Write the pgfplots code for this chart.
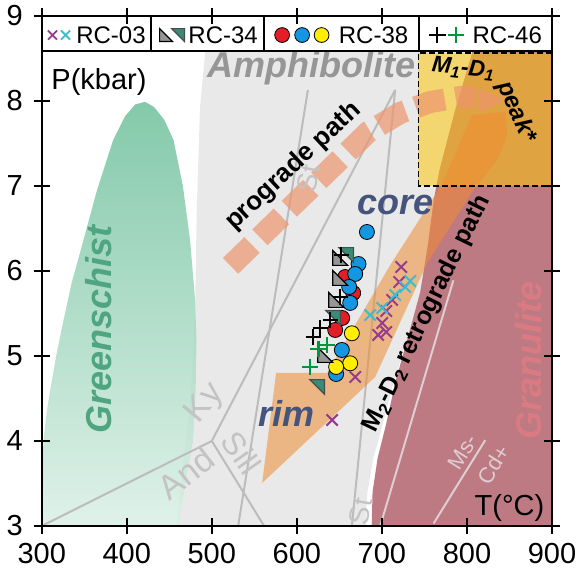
\documentclass[border=0pt]{standalone}
\usepackage{fontspec}
\setmainfont{Liberation Sans}
\usepackage{pgfplots}
\pgfplotsset{compat=1.18}
\usetikzlibrary{calc}
\definecolor{grey1}{RGB}{233,233,233}
\definecolor{gs1}{RGB}{110,192,155}
\definecolor{gs2}{RGB}{220,240,231}
\definecolor{gran}{RGB}{189,122,130}
\definecolor{boxy}{RGB}{243,214,112}
\definecolor{boxo}{RGB}{223,163,65}
\definecolor{orng}{RGB}{240,140,50}
\definecolor{salm}{RGB}{238,150,110}
\definecolor{lin}{RGB}{188,188,188}
\definecolor{linp}{RGB}{222,205,210}
\definecolor{txtblue}{RGB}{68,84,125}
\definecolor{gstxt}{RGB}{78,165,128}
\definecolor{grtxt}{RGB}{218,122,130}
\definecolor{amtxt}{RGB}{150,150,150}
\definecolor{lbl}{RGB}{195,195,195}
\definecolor{mblue}{RGB}{20,150,225}
\definecolor{mred}{RGB}{228,30,38}
\definecolor{myel}{RGB}{255,238,0}
\definecolor{mgrey}{RGB}{150,150,150}
\definecolor{mteal}{RGB}{55,140,118}
\definecolor{mpurp}{RGB}{150,60,140}
\definecolor{mcyan}{RGB}{60,188,205}
\definecolor{mgreen}{RGB}{0,150,60}
\pgfdeclareplotmark{trigrey}{%
  \pgfpathmoveto{\pgfpoint{-\pgfplotmarksize}{\pgfplotmarksize}}%
  \pgfpathlineto{\pgfpoint{-\pgfplotmarksize}{-\pgfplotmarksize}}%
  \pgfpathlineto{\pgfpoint{\pgfplotmarksize}{-\pgfplotmarksize}}%
  \pgfpathclose\pgfusepathqfillstroke}
\pgfdeclareplotmark{triteal}{%
  \pgfpathmoveto{\pgfpoint{-\pgfplotmarksize}{\pgfplotmarksize}}%
  \pgfpathlineto{\pgfpoint{\pgfplotmarksize}{\pgfplotmarksize}}%
  \pgfpathlineto{\pgfpoint{\pgfplotmarksize}{-\pgfplotmarksize}}%
  \pgfpathclose\pgfusepathqfillstroke}
\newcommand{\bigbi}{\fontsize{18}{20}\selectfont\bfseries\itshape}
\begin{document}
\begin{tikzpicture}
\begin{axis}[name=ax, scale only axis, width=255.15pt, height=255pt,
  xmin=300, xmax=900, ymin=3, ymax=9,
  xtick={300,400,...,900}, ytick={3,4,...,9},
  axis on top, axis line style={line width=1pt},
  tick style={line width=1pt, black}, tick align=center, major tick length=8pt,
  ticklabel style={font=\fontsize{14.5}{16}\selectfont},
  /pgf/number format/assume math mode=true,
  xticklabel style={yshift=-1pt}, yticklabel style={xshift=-2pt}]
% Amphibolite field
\addplot[draw=none, fill=grey1] coordinates {(495,9.1) (492.1,8.56) (486.2,7.93) (482.4,6.75) (480.4,5.58) (474.5,4.4) (464.7,3.62) (458.8,3.03) (457,2.9) (681,2.9) (681,3.0) (683,3.4) (690,3.8) (701,4.2) (714,4.7) (730,5.2) (900,6.5) (900,9.1)} -- cycle;
% Greenschist field
\addplot[draw=none, top color=gs1, bottom color=gs2, fill opacity=0.85] coordinates {(300,2.9) (300,3.0) (300.5,3.5) (302,4.0) (306,4.35) (310,4.6) (317,5.0) (325,5.39) (335,5.85) (349,6.36) (365,6.95) (384,7.54) (398,7.82) (410,7.96) (421.5,7.99) (432,7.93) (444,7.78) (455,7.54) (466,7.0) (474.5,6.36) (480,5.7) (482,5.19) (481,4.6) (478,4.0) (471,3.62) (461,3.0) (460,2.9)} -- cycle;
% reaction lines
\addplot[lin, line width=1pt] coordinates {(300,3) (500,4) (715.6,8.13)};
\addplot[lin, line width=1pt] coordinates {(500,4) (561.5,3)};
\addplot[lin, line width=1pt] coordinates {(531,3) (613,8.13)};
\addplot[lin, line width=1pt] coordinates {(664.7,3) (715.6,8.13)};
% Granulite field
\addplot[draw=none, fill=gran] coordinates {(688,2.9) (688,3.0) (689,3.4) (695,3.8) (705,4.2) (716,4.7) (730,5.2) (745,5.75) (754,6.3) (761,6.84) (768,7.2) (786,7.89) (806,8.56) (816,9.1) (910,9.1) (910,2.9)} -- cycle;
\addplot[linp, line width=1pt] coordinates {(698,3.0) (784,5.89)};
\addplot[linp, line width=1pt] coordinates {(760.8,3.03) (821.5,4.01)};
% peak box
\addplot[draw=none, fill=boxy] coordinates {(743,7) (743,8.565) (900,8.565) (900,7)} -- cycle;
\addplot[draw=none, fill=boxo] coordinates {(764.1,7) (768,7.2) (786,7.89) (806.1,8.565) (900,8.565) (900,7)} -- cycle;
% retrograde path
\addplot[draw=none, fill=orng, fill opacity=0.55] coordinates {(559.2,3.506) (575.6,4.8) (635.6,4.8) (709.8,6.07) (768.6,6.988) (786.2,7.365) (798,7.659) (806.2,7.835) (845,7.871) (847.4,7.6) (835.6,7.306) (809.8,6.988) (753.3,6.094) (692.1,4.753)} -- cycle;
% prograde path
\addplot[salm, draw opacity=0.7, line width=11pt, dash pattern=on 15pt off 5.5pt] coordinates {(522,6.06) (683.9,7.635) (721.5,7.859) (756.8,7.988) (792.1,8.047) (810,8.04)};
\addplot[draw=none, fill=salm, fill opacity=0.7] coordinates {(813.3,8.153) (845,8.012) (813.3,7.859)} -- cycle;
\addplot[black, line width=0.8pt, dash pattern=on 3pt off 1.5pt] coordinates {(743,7) (743,8.565) (900,8.565) (900,7) (743,7)};
% labels
\node[amtxt, font=\bigbi] at (617,8.39) {Amphibolite};
\node[gstxt, font=\bigbi, rotate=90] at (367.4,5.31) {Greenschist};
\node[grtxt, font=\bigbi, rotate=90] at (872,4.95) {Granulite};
\node[txtblue, font=\bigbi] at (715.6,6.776) {core};
\node[txtblue, font=\bigbi] at (587.9,4.318) {rim};
\node[black, font=\fontsize{13}{15}\selectfont\bfseries, rotate=43] at (596,7.23) {prograde path};
\node[black, font=\fontsize{12.5}{15}\selectfont\bfseries, rotate=64] at (753,5.5) {M\textsubscript{2}-D\textsubscript{2} retrograde path};
\node[black, font=\fontsize{11.5}{13}\selectfont\bfseries\itshape, rotate=-6] at (796,8.38) {M\textsubscript{1}-D\textsubscript{1}};
\node[black, font=\fontsize{12}{14}\selectfont\bfseries\itshape, rotate=-66] at (858,7.87) {peak*};
\node[lbl, font=\fontsize{17}{19}\selectfont, rotate=50] at (492.1,4.44) {Ky};
\node[lbl, font=\fontsize{17}{19}\selectfont, rotate=38] at (470,3.62) {And};
\node[lbl, font=\fontsize{16}{18}\selectfont, rotate=-55] at (535,3.86) {Sill};
\node[lbl, font=\fontsize{14}{16}\selectfont, rotate=80] at (614,7.09) {St};
\node[lbl, font=\fontsize{14}{16}\selectfont, rotate=80] at (675,3.17) {St};
\node[linp, font=\fontsize{11}{13}\selectfont, rotate=58] at (795,3.876) {Ms-};
\node[linp, font=\fontsize{11}{13}\selectfont, rotate=58] at (831,3.72) {Cd+};
\node[black, font=\fontsize{14.5}{16}\selectfont] at (367.4,8.224) {P(kbar)};
\node[black, font=\fontsize{14.5}{16}\selectfont] at (850,3.212) {T(°C)};
% data: RC-38
\addplot[only marks, mark=*, mark size=3.75pt, mark options={draw=none, fill=mred}] coordinates {(656.8,5.929) (666.2,5.741) (653.3,5.447) (645.1,5.306)};
\addplot[only marks, mark=*, mark size=3.75pt, mark options={draw=none, fill=mblue}] coordinates {(682.4,6.459) (672.5,6.082) (668.6,5.965) (661.5,5.812) (662.7,5.624) (652.9,5.071) (646.2,4.788)};
\addplot[only marks, mark=*, mark size=3.75pt, mark options={draw=none, fill=myel}] coordinates {(664.7,5.267) (662.7,4.914) (646.2,4.871)};
% RC-34
\addplot[only marks, mark=trigrey, mark size=3.7pt, mark options={draw=black, fill=mgrey, line width=0.6pt}] coordinates {(650.9,6.153) (650.9,5.918) (646.2,5.659) (633.3,5.012)};
\addplot[only marks, mark=triteal, mark size=3.7pt, mark options={draw=black!70, fill=mteal, line width=0.6pt}] coordinates {(658,6.188) (642.7,5.447) (623.9,4.635)};
% RC-46
\addplot[only marks, mark=+, mark size=3.8pt, mark options={draw=black, line width=1.2pt}] coordinates {(652.1,6.188) (650.9,5.694) (639.2,5.424) (627.4,5.329) (619.2,5.224)};
\addplot[only marks, mark=+, mark size=4pt, mark options={draw=mgreen, line width=1.3pt}] coordinates {(635.6,5.129) (625.1,5.082) (615.6,4.871)};
% RC-03
\addplot[only marks, mark=x, mark size=4pt, mark options={draw=mpurp, line width=1pt}] coordinates {(722.7,6.047) (720.4,5.871) (712.1,5.659) (705.1,5.529) (700.4,5.388) (695.6,5.247) (705.1,5.282) (668.6,4.753) (641.5,4.247)};
\addplot[only marks, mark=x, mark size=4pt, mark options={draw=mcyan, line width=1pt}] coordinates {(686.2,5.482) (700.4,5.565) (715.6,5.718) (727.4,5.812) (733.3,5.882)};
% legend strip
\addplot[fill=white, draw=black, line width=0.9pt] coordinates {(300,8.59) (300,9) (900,9) (900,8.59)} -- cycle;
\addplot[black, line width=0.9pt] coordinates {(428.6,8.59) (428.6,9)};
\addplot[black, line width=0.9pt] coordinates {(561.1,8.59) (561.1,9)};
\addplot[black, line width=0.9pt] coordinates {(743.9,8.59) (743.9,9)};
\addplot[only marks, mark=x, mark size=3.2pt, mark options={draw=mpurp, line width=0.9pt}] coordinates {(312.7,8.776)};
\addplot[only marks, mark=x, mark size=3.2pt, mark options={draw=mcyan, line width=0.9pt}] coordinates {(328,8.776)};
\addplot[only marks, mark=trigrey, mark size=3.2pt, mark options={draw=black, fill=mgrey, line width=0.6pt}] coordinates {(446.2,8.776)};
\addplot[only marks, mark=triteal, mark size=3.2pt, mark options={draw=black!70, fill=mteal, line width=0.6pt}] coordinates {(460.4,8.776)};
\addplot[only marks, mark=*, mark size=3.7pt, mark options={draw=none, fill=mred}] coordinates {(582.7,8.776)};
\addplot[only marks, mark=*, mark size=3.7pt, mark options={draw=none, fill=mblue}] coordinates {(606.2,8.776)};
\addplot[only marks, mark=*, mark size=3.7pt, mark options={draw=none, fill=myel}] coordinates {(629.1,8.776)};
\addplot[only marks, mark=+, mark size=4.2pt, mark options={draw=black, line width=1.3pt}] coordinates {(765,8.776)};
\addplot[only marks, mark=+, mark size=4.2pt, mark options={draw=mgreen, line width=1.3pt}] coordinates {(787.1,8.776)};
\node[font=\fontsize{12}{14}\selectfont] at (381.5,8.776) {RC-03};
\node[font=\fontsize{12}{14}\selectfont] at (513.3,8.776) {RC-34};
\node[font=\fontsize{12}{14}\selectfont] at (690.2,8.776) {RC-38};
\node[font=\fontsize{12}{14}\selectfont] at (847.4,8.776) {RC-46};
\end{axis}
\pgfresetboundingbox
\path ($(ax.south west)+(-20.85pt,-23pt)$) rectangle ($(ax.north east)+(12.5pt,8pt)$);
\end{tikzpicture}
\end{document}
